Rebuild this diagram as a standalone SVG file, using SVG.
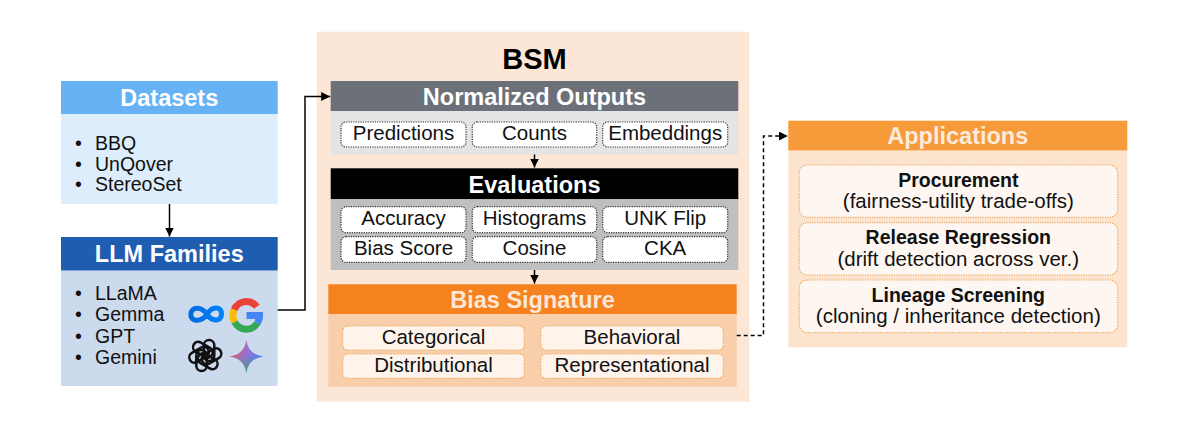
<svg xmlns="http://www.w3.org/2000/svg" width="1180" height="431" viewBox="0 0 1180 431">
<style>
text{font-family:"Liberation Sans",Arial,sans-serif;}
.hd{font-size:23.5px;font-weight:700;fill:#fff;text-anchor:middle;}
.ct{font-size:20.5px;fill:#111;text-anchor:middle;}
.bl{font-size:19.5px;fill:#111;}
.chipd{fill:#fff;stroke:#333;stroke-width:1.2;stroke-dasharray:1.2 1.2;}
.chipo{fill:#FEF4EC;stroke:#EBA65E;stroke-width:1.2;stroke-dasharray:1.2 1.2;}
.conn{fill:none;stroke:#000;stroke-width:1.5;}
.ab{font-size:19.5px;font-weight:700;fill:#111;text-anchor:middle;}
.ar{font-size:20.5px;fill:#111;text-anchor:middle;}
</style>
<defs>
<marker id="ah" viewBox="0 0 10 10" refX="10" refY="5" markerWidth="9" markerHeight="9" markerUnits="userSpaceOnUse" orient="auto">
<path d="M0,0 L10,5 L0,10 Z" fill="#000"/>
</marker>
<linearGradient id="gem" x1="0" y1="0.3" x2="1" y2="0.7">
<stop offset="0" stop-color="#EC5A3A"/>
<stop offset="0.45" stop-color="#9A6FD6"/>
<stop offset="1" stop-color="#3A8BF2"/>
</linearGradient>
<linearGradient id="gem2" x1="0" y1="0" x2="0" y2="1">
<stop offset="0.45" stop-color="#34A853" stop-opacity="0"/>
<stop offset="1" stop-color="#34A853" stop-opacity="0.7"/>
</linearGradient>
<linearGradient id="meta" x1="0" y1="0" x2="1" y2="0">
<stop offset="0" stop-color="#0668E1"/>
<stop offset="1" stop-color="#0082FB"/>
</linearGradient>
</defs>
<rect width="1180" height="431" fill="#fff"/>

<g id="datasets">
<rect x="61" y="81" width="216.7" height="33" fill="#66B2F4"/>
<rect x="61" y="114" width="216.7" height="90" fill="#DDEDFB"/>
<text class="hd" x="169.3" y="105.5">Datasets</text>
<text class="bl" x="75" y="149.5">•</text><text class="bl" x="95" y="149.5">BBQ</text>
<text class="bl" x="75" y="170.5">•</text><text class="bl" x="95" y="170.5">UnQover</text>
<text class="bl" x="75" y="191">•</text><text class="bl" x="95" y="191">StereoSet</text>
</g>

<g id="llm-families">
<rect x="61" y="237" width="216.7" height="33.7" fill="#1F5DB1"/>
<rect x="61" y="270.7" width="216.7" height="115.3" fill="#CCDAEE"/>
<text class="hd" x="169.3" y="262">LLM Families</text>
<text class="bl" x="75" y="300">•</text><text class="bl" x="95" y="300">LLaMA</text>
<text class="bl" x="75" y="321">•</text><text class="bl" x="95" y="321">Gemma</text>
<text class="bl" x="75" y="342.5">•</text><text class="bl" x="95" y="342.5">GPT</text>
<text class="bl" x="75" y="364">•</text><text class="bl" x="95" y="364">Gemini</text>
<path d="M207,314.5 C211.5,306 222,305.5 221.5,314.5 C221,322.5 211.5,321 207,314.5 C202,306.5 191,306 190.8,314.5 C190.6,322.5 201.5,322 207,314.5 Z" fill="none" stroke="url(#meta)" stroke-width="5"/>
<g fill="none" stroke-width="7">
<path d="M256.8,306.8 A13,13 0 0 0 234.2,309.8" stroke="#EA4335"/>
<path d="M234.2,309.8 A13,13 0 0 0 234.7,322" stroke="#FBBC05"/>
<path d="M234.7,322 A13,13 0 0 0 257.4,323" stroke="#34A853"/>
<path d="M257.4,323 A13,13 0 0 0 259.5,315.5" stroke="#4285F4"/>
</g>
<rect x="246.5" y="312" width="16.5" height="7" fill="#4285F4"/>
<g transform="translate(205.3,355.5)" fill="none" stroke="#111" stroke-width="2.5">
<rect x="-1.5" y="-15.5" width="10.5" height="21" rx="5.2"/>
<rect x="-1.5" y="-15.5" width="10.5" height="21" rx="5.2" transform="rotate(60)"/>
<rect x="-1.5" y="-15.5" width="10.5" height="21" rx="5.2" transform="rotate(120)"/>
<rect x="-1.5" y="-15.5" width="10.5" height="21" rx="5.2" transform="rotate(180)"/>
<rect x="-1.5" y="-15.5" width="10.5" height="21" rx="5.2" transform="rotate(240)"/>
<rect x="-1.5" y="-15.5" width="10.5" height="21" rx="5.2" transform="rotate(300)"/>
</g>
<path d="M246.3,340 Q248.3,354.5 263.3,356.5 Q248.3,358.5 246.3,373 Q244.3,358.5 229.3,356.5 Q244.3,354.5 246.3,340 Z" fill="url(#gem)"/>
<path d="M246.3,340 Q248.3,354.5 263.3,356.5 Q248.3,358.5 246.3,373 Q244.3,358.5 229.3,356.5 Q244.3,354.5 246.3,340 Z" fill="url(#gem2)"/>
</g>

<g id="bsm">
<rect x="316.7" y="31.7" width="432.6" height="370" fill="#FCE6D5"/>
<text x="534.5" y="68.5" font-size="29" font-weight="700" fill="#000" text-anchor="middle">BSM</text>
</g>

<g id="normalized-outputs">
<rect x="330.7" y="81" width="407.6" height="30" fill="#6C7079"/>
<rect x="330.7" y="111" width="407.6" height="43.5" fill="#E4E4E4"/>
<text class="hd" x="534.5" y="104.5">Normalized Outputs</text>
<rect class="chipd" x="341" y="122" width="125" height="25" rx="5"/>
<rect class="chipd" x="472.3" y="122" width="124.4" height="25" rx="5"/>
<rect class="chipd" x="602.7" y="122" width="125" height="25" rx="5"/>
<text class="ct" x="403.5" y="140">Predictions</text>
<text class="ct" x="534.5" y="140">Counts</text>
<text class="ct" x="665.2" y="140">Embeddings</text>
</g>

<g id="evaluations">
<rect x="330.7" y="168.3" width="407.6" height="31" fill="#000"/>
<rect x="330.7" y="199.3" width="407.6" height="70.7" fill="#BFBFBF"/>
<text class="hd" x="534.5" y="192.5">Evaluations</text>
<rect class="chipd" x="341" y="206.7" width="125" height="26" rx="5"/>
<rect class="chipd" x="472.3" y="206.7" width="124.4" height="26" rx="5"/>
<rect class="chipd" x="602.7" y="206.7" width="125" height="26" rx="5"/>
<rect class="chipd" x="341" y="236.7" width="125" height="25.6" rx="5"/>
<rect class="chipd" x="472.3" y="236.7" width="124.4" height="25.6" rx="5"/>
<rect class="chipd" x="602.7" y="236.7" width="125" height="25.6" rx="5"/>
<text class="ct" x="403.5" y="225">Accuracy</text>
<text class="ct" x="534.5" y="225">Histograms</text>
<text class="ct" x="665.2" y="225">UNK Flip</text>
<text class="ct" x="403.5" y="255">Bias Score</text>
<text class="ct" x="534.5" y="255">Cosine</text>
<text class="ct" x="665.2" y="255">CKA</text>
</g>

<g id="bias-signature">
<rect x="328.3" y="284.3" width="408.4" height="29.7" fill="#F5821F"/>
<rect x="328.3" y="314" width="408.4" height="72.7" fill="#F9CEAA"/>
<text class="hd" x="532.5" y="307.5" style="fill:#FDE8D8">Bias Signature</text>
<rect class="chipo" x="342.7" y="326" width="181.6" height="24" rx="5"/>
<rect class="chipo" x="540.7" y="326" width="182.6" height="24" rx="5"/>
<rect class="chipo" x="342.7" y="354" width="181.6" height="24.3" rx="5"/>
<rect class="chipo" x="540.7" y="354" width="182.6" height="24.3" rx="5"/>
<text class="ct" x="433.5" y="343.7">Categorical</text>
<text class="ct" x="632" y="343.7">Behavioral</text>
<text class="ct" x="433.5" y="372">Distributional</text>
<text class="ct" x="632" y="372">Representational</text>
</g>

<g id="applications">
<rect x="788.3" y="120.7" width="339" height="30" fill="#F69A3A"/>
<rect x="788.3" y="150.7" width="339" height="196.6" fill="#FCE4CF"/>
<text class="hd" x="957.8" y="143.5" style="fill:#FDEBDD">Applications</text>
<rect class="chipo" x="799.3" y="165" width="318.4" height="52.3" rx="8" style="fill:#FEF7F1"/>
<rect class="chipo" x="799.3" y="222.7" width="318.4" height="52.3" rx="8" style="fill:#FEF7F1"/>
<rect class="chipo" x="799.3" y="280" width="318.4" height="52.7" rx="8" style="fill:#FEF7F1"/>
<text class="ab" x="958.3" y="186.5">Procurement</text>
<text class="ar" x="958.3" y="207.5">(fairness-utility trade-offs)</text>
<text class="ab" x="958.3" y="244">Release Regression</text>
<text class="ar" x="958.3" y="265.5">(drift detection across ver.)</text>
<text class="ab" x="958.3" y="301.5">Lineage Screening</text>
<text class="ar" x="958.3" y="322.5">(cloning / inheritance detection)</text>
</g>

<g id="connectors">
<line class="conn" x1="169.5" y1="204" x2="169.5" y2="236.5" marker-end="url(#ah)"/>
<polyline class="conn" points="277.7,310 305,310 305,96.5 330.2,96.5" marker-end="url(#ah)"/>
<line class="conn" x1="534.5" y1="154.5" x2="534.5" y2="167.5" marker-end="url(#ah)"/>
<line class="conn" x1="534.5" y1="270" x2="534.5" y2="283.5" marker-end="url(#ah)"/>
<polyline class="conn" points="736.7,335.5 763.5,335.5 763.5,136 787.8,136" stroke-dasharray="4 3" marker-end="url(#ah)"/>
</g>
</svg>
